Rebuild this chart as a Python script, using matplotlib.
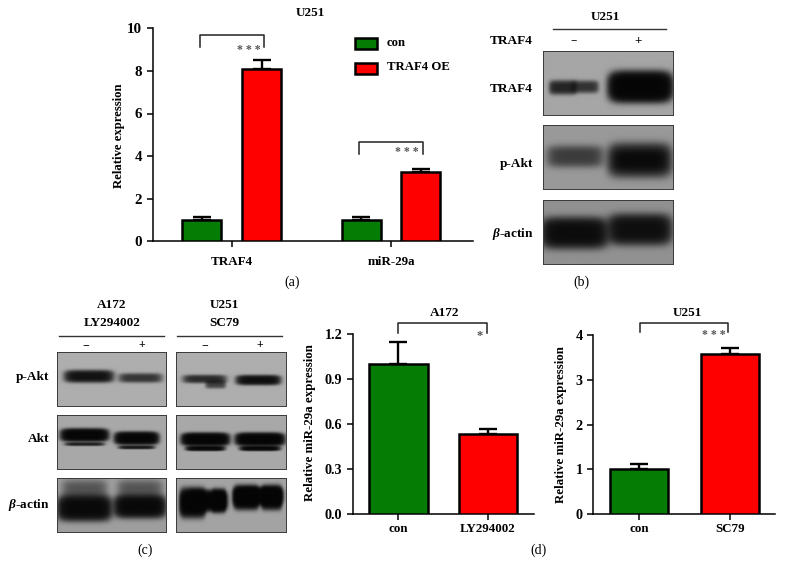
import matplotlib
matplotlib.use("Agg")
import matplotlib.pyplot as plt
import numpy as np
from matplotlib.lines import Line2D
from matplotlib.patches import Rectangle

plt.rcParams["font.family"] = ["Liberation Serif", "DejaVu Serif"]
plt.rcParams["font.weight"] = "bold"
plt.rcParams["mathtext.fontset"] = "custom"
plt.rcParams["mathtext.rm"] = "Liberation Serif:bold"
plt.rcParams["mathtext.it"] = "Liberation Serif:italic:bold"
plt.rcParams["mathtext.bf"] = "Liberation Serif:bold"
plt.rcParams["mathtext.bfit"] = "Liberation Serif:italic:bold"

W, H = 786, 576
GREEN = "#057d05"
RED = "#ff0000"

# panel a
genes = ["TRAF4", "miR-29a"]
con_vals = [1.0, 1.0]
con_err = [0.13, 0.13]
oe_vals = [8.07, 3.27]
oe_err = [0.43, 0.14]
yticks_a = [0, 2, 4, 6, 8, 10]

# panel d
a172_labels = ["con", "LY294002"]
a172_vals = [1.0, 0.534]
a172_err = [0.145, 0.035]
a172_ticks = ["0.0", "0.3", "0.6", "0.9", "1.2"]

u251_labels = ["con", "SC79"]
u251_vals = [1.0, 3.58]
u251_err = [0.115, 0.13]
u251_ticks = ["0", "1", "2", "3", "4"]

# blot bands: horizontal centre, half width, vertical centre, half height, darkness
traf4_bands = [(0.15, 0.10, 0.57, 0.10, 0.55), (0.32, 0.10, 0.56, 0.09, 0.42), (0.745, 0.225, 0.56, 0.20, 1.8)]
pakt_b_bands = [(0.245, 0.21, 0.49, 0.16, 0.33), (0.74, 0.23, 0.55, 0.23, 0.8),
                (0.74, 0.18, 0.55, 0.12, 0.3)]
actin_b_bands = [(0.24, 0.24, 0.515, 0.21, 1.0), (0.74, 0.23, 0.46, 0.21, 0.9)]
pakt_a172 = [(0.29, 0.21, 0.45, 0.10, 0.85), (0.76, 0.19, 0.48, 0.08, 0.42)]
akt_a172 = [(0.25, 0.20, 0.37, 0.10, 1.6), (0.25, 0.17, 0.54, 0.03, 0.6),
            (0.725, 0.185, 0.43, 0.10, 1.6), (0.725, 0.155, 0.6, 0.03, 0.7)]
actin_a172 = [(0.25, 0.23, 0.56, 0.20, 1.2), (0.25, 0.20, 0.22, 0.18, 0.22),
              (0.755, 0.22, 0.53, 0.18, 1.2), (0.755, 0.20, 0.22, 0.18, 0.22)]
pakt_u251 = [(0.26, 0.19, 0.5, 0.07, 0.5), (0.36, 0.09, 0.6, 0.07, 0.35), (0.75, 0.19, 0.52, 0.08, 0.95)]
akt_u251 = [(0.266, 0.2, 0.45, 0.10, 1.8), (0.266, 0.165, 0.62, 0.04, 1.2),
            (0.765, 0.205, 0.45, 0.10, 1.8), (0.765, 0.17, 0.62, 0.04, 1.2)]
actin_u251 = [(0.15, 0.11, 0.46, 0.22, 1.8), (0.28, 0.17, 0.42, 0.16, 1.8), (0.39, 0.06, 0.42, 0.17, 1.4),
              (0.64, 0.11, 0.36, 0.18, 1.8), (0.75, 0.2, 0.33, 0.13, 1.8), (0.87, 0.09, 0.36, 0.18, 1.8)]

fig = plt.figure(figsize=(W / 100, H / 100), dpi=100)


def add_ax(left, top, right, bottom):
    return fig.add_axes([left / W, 1 - bottom / H, (right - left) / W, (bottom - top) / H])


def label(x, y, s, size=9.5, ha="center", **kw):
    fig.text(x / W, 1 - y / H, s, fontsize=size, ha=ha, va="center", **kw)


def line(xs, ys, lw=1.0, color="black"):
    fig.add_artist(Line2D([x / W for x in xs], [1 - y / H for y in ys], lw=lw, color=color))


def bracket(x0, x1, top, drop):
    line([x0, x0, x1, x1], [top + drop, top, top, top + drop], lw=1.1, color="#222222")


def style_axis(ax, xpad):
    ax.spines["top"].set_visible(False)
    ax.spines["right"].set_visible(False)
    ax.spines["left"].set_linewidth(1.1)
    ax.spines["bottom"].set_linewidth(1.1)
    ax.tick_params(length=4.5, width=1.1, pad=3, labelsize=9.4)
    ax.tick_params(axis="x", pad=xpad)
    ax.tick_params(axis="y", labelsize=10.2)


def draw_bar(ax, x, val, err, width, color):
    ax.errorbar(x, val, yerr=[[0], [err]], color="black", lw=1.7, capsize=6.6, capthick=1.7, zorder=2)
    ax.bar(x, val, width=width, color=color, edgecolor="black", linewidth=1.8, zorder=3)


def blot(left, top, right, bottom, bands, bg=0.62):
    ax = add_ax(left, top, right, bottom)
    yy, xx = np.mgrid[0:1:160j, 0:1:220j]
    dark = np.zeros_like(xx)
    for cx, hw, cy, hh, d in bands:
        dark += d * np.exp(-np.abs((xx - cx) / hw) ** 6 - np.abs((yy - cy) / hh) ** 3)
    img = bg * np.exp(-3.0 * dark) + 0.02
    ax.imshow(img, cmap="gray", vmin=0, vmax=1, aspect="auto", extent=[0, 1, 1, 0], interpolation="bilinear")
    ax.set_xticks([])
    ax.set_yticks([])
    for s in ax.spines.values():
        s.set_linewidth(0.7)
        s.set_color("#3a3a3a")


# panel a
ax = add_ax(152.7, 28.3, 472.7, 241.3)
for i in range(len(genes)):
    draw_bar(ax, i - 0.188, con_vals[i], con_err[i], 0.245, GREEN)
    draw_bar(ax, i + 0.188, oe_vals[i], oe_err[i], 0.245, RED)
ax.set_xlim(-0.496, 1.513)
ax.set_ylim(0, 10)
ax.set_yticks(yticks_a)
ax.set_xticks(range(len(genes)))
ax.set_xticklabels(genes)
style_axis(ax, 6)
ax.tick_params(axis="y", labelsize=10.8)
label(310, 12.7, "U251")
label(119, 136, "Relative expression", size=9.2, rotation=90)
label(291.7, 282.7, "(a)", size=10, fontweight="normal")
bracket(200, 264.3, 35, 12)
bracket(359, 423.3, 142.3, 11.7)
label(249, 50, "* * *", size=8.5, color="#555555")
label(407.3, 152, "* * *", size=8.5, color="#555555")
for ytop, colr, name in [(37.5, GREEN, "con"), (62.5, RED, "TRAF4 OE")]:
    fig.add_artist(Rectangle((355 / W, 1 - (ytop + 11) / H), 22 / W, 11 / H, facecolor=colr,
                             edgecolor="black", linewidth=1.8, transform=fig.transFigure))
    label(386.7, ytop + 5, name, ha="left", size=9.2)

# panel b
label(605, 17, "U251", size=9.5)
line([553.3, 665.7], [29, 29], color="#333333")
label(533, 41, "TRAF4", ha="right", size=9.5)
label(574, 41, "\u2212", size=8)
label(638, 41, "+", size=9.5)
blot(542.7, 50.7, 673.3, 114.7, traf4_bands, bg=0.63)
blot(542.7, 125.3, 673.3, 189.3, pakt_b_bands, bg=0.58)
blot(542.7, 200.3, 673.3, 264.3, actin_b_bands, bg=0.55)
label(533, 89, "TRAF4", ha="right", size=9.5)
label(533, 164, "p-Akt", ha="right", size=9.5)
label(533, 234, r"$\mathbfit{\beta}$-actin", ha="right", size=9.5)
label(581.7, 282.7, "(b)", size=10, fontweight="normal")

# panel c
label(112, 305, "A172", size=9.5)
label(112, 323.3, "LY294002", size=9.5)
label(224.3, 305, "U251", size=9.5)
label(224.3, 323.3, "SC79", size=9.5)
line([59.3, 163.7], [336, 336], color="#333333")
line([177.3, 282], [336, 336], color="#333333")
for x, s in [(85.3, "\u2212"), (141.7, "+"), (205, "\u2212"), (260, "+")]:
    label(x, 345, s, size=8.5)
blot(57, 352.3, 166.3, 406.3, pakt_a172, bg=0.66)
blot(57, 415.3, 166.3, 469.3, akt_a172, bg=0.64)
blot(57, 478.3, 166.3, 532.3, actin_a172, bg=0.6)
blot(175.7, 352.3, 285.7, 406.3, pakt_u251, bg=0.66)
blot(175.7, 415.3, 285.7, 469.3, akt_u251, bg=0.64)
blot(175.7, 478.3, 285.7, 532.3, actin_u251, bg=0.62)
label(49, 376.7, "p-Akt", ha="right", size=9.5)
label(49, 438.7, "Akt", ha="right", size=9.5)
label(49, 505, r"$\mathbfit{\beta}$-actin", ha="right", size=9.5)
label(145, 550, "(c)", size=10, fontweight="normal")

# panel d, A172
ax = add_ax(352.7, 333.7, 534, 514.3)
for i in range(len(a172_labels)):
    draw_bar(ax, i, a172_vals[i], a172_err[i], 0.655, [GREEN, RED][i])
ax.set_xlim(-0.508, 1.513)
ax.set_ylim(0, 1.2)
ax.set_yticks([float(t) for t in a172_ticks])
ax.set_yticklabels(a172_ticks)
ax.set_xticks(range(len(a172_labels)))
ax.set_xticklabels(a172_labels)
style_axis(ax, 1.7)
label(445, 312.7, "A172", size=9.5)
label(309.5, 423, "Relative miR-29a expression", size=9.3, rotation=90)
bracket(398.3, 486.7, 322.7, 10)
label(479.3, 335.5, "*", size=9, color="#555555")

# panel d, U251
ax = add_ax(593, 335, 775.3, 514.3)
for i in range(len(u251_labels)):
    draw_bar(ax, i, u251_vals[i], u251_err[i], 0.645, [GREEN, RED][i])
ax.set_xlim(-0.512, 1.505)
ax.set_ylim(0, 4)
ax.set_yticks([int(t) for t in u251_ticks])
ax.set_yticklabels(u251_ticks)
ax.set_xticks(range(len(u251_labels)))
ax.set_xticklabels(u251_labels)
style_axis(ax, 1.7)
label(687.3, 312.7, "U251", size=9.5)
label(560.7, 425, "Relative miR-29a expression", size=9.3, rotation=90)
bracket(640, 728, 322.7, 9)
label(714.3, 335.5, "* * *", size=8.5, color="#555555")
label(538.3, 550, "(d)", size=10, fontweight="normal")

fig.savefig("out.png", dpi=100)
